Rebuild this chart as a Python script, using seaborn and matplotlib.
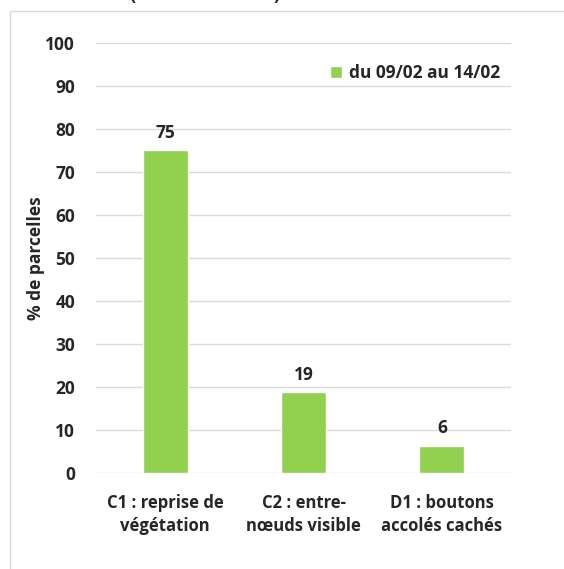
import pandas as pd
import matplotlib.pyplot as plt
import seaborn as sns
from matplotlib.patches import Rectangle

# Données
stades = ['C1 : reprise de\nvégétation', 'C2 : entre-\nnœuds visible', 'D1 : boutons\naccolés cachés']
pourcentages = [75.0, 18.8, 6.3]
periode = 'du 09/02 au 14/02'

df = pd.DataFrame({'Stade': stades, 'Pct': pourcentages, 'Periode': periode})

sns.set_style('white')
plt.rcParams['font.family'] = ['Open Sans', 'DejaVu Sans']
plt.rcParams['font.weight'] = 'bold'

vert = '#92D050'
gris = '#D9D9D9'
taille = 12.5

fig = plt.figure(figsize=(5.64, 5.69), dpi=100)
ax = fig.add_axes([96 / 564, 1 - 472.7 / 569, 415 / 564, 429.7 / 569])

sns.barplot(data=df, x='Stade', y='Pct', hue='Periode', palette=[vert],
            width=0.325, legend=False, ax=ax, saturation=1)

ax.set_ylim(0, 100)
ax.set_xlim(-0.5, 2.5)
ax.set_yticks(range(0, 101, 10))
ax.yaxis.grid(True, color=gris, linewidth=1)
ax.set_axisbelow(True)
for s in ax.spines.values():
    s.set_visible(False)
ax.tick_params(axis='y', length=0, labelsize=taille, pad=15)
ax.tick_params(axis='x', length=0, labelsize=12, pad=15)
for lab in ax.get_xticklabels():
    lab.set_linespacing(1.4)
    lab.set_fontweight('bold')
for lab in ax.get_yticklabels():
    lab.set_fontweight('bold')

ax.set_xlabel('')
ax.set_ylabel('% de parcelles', fontsize=taille, fontweight='bold', labelpad=0)

ax.bar_label(ax.containers[0], fmt='%.0f', padding=6, fontsize=taille, fontweight='bold')

ax.legend([ax.containers[0]], [periode], loc='center left',
          bbox_to_anchor=(330 / 564, 1 - 73 / 569), bbox_transform=fig.transFigure,
          frameon=False, handlelength=0.7, handleheight=0.7, handletextpad=0.4,
          borderpad=0, borderaxespad=0, prop={'size': taille, 'weight': 'bold'})

# cadre du graphique (coupé à droite et en bas)
fig.patches.append(Rectangle((10 / 564, -0.05), 1.1, 1 - 11 / 569 + 0.05,
                             transform=fig.transFigure, fill=False,
                             edgecolor=gris, linewidth=1))

# bas du titre coupé
fig.text(132 / 564, 1.0, '(', fontsize=13, fontweight='bold', va='baseline', ha='center')
fig.text(277 / 564, 1.0, ')', fontsize=13, fontweight='bold', va='baseline', ha='center')

fig.savefig('out.png', dpi=100)
